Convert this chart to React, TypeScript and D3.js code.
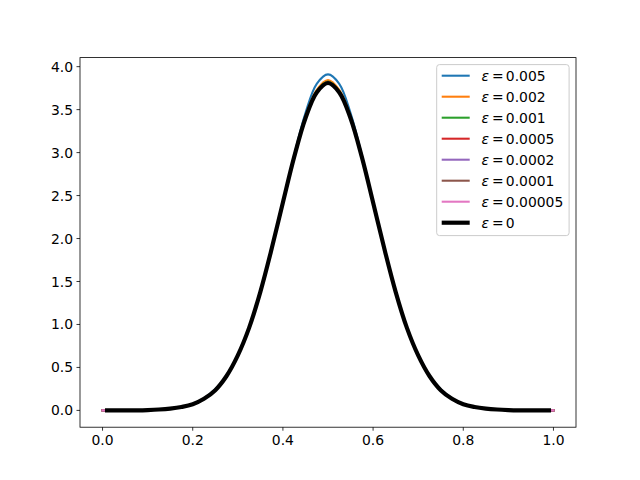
import React from 'react';
import * as d3 from 'd3';

const xGrid = [0, 0.025, 0.05, 0.075, 0.1, 0.125, 0.15, 0.175, 0.2, 0.225, 0.25, 0.275, 0.3, 0.325, 0.35, 0.375, 0.4, 0.425, 0.45, 0.475, 0.5, 0.525, 0.55, 0.575, 0.6, 0.625, 0.65, 0.675, 0.7, 0.725, 0.75, 0.775, 0.8, 0.825, 0.85, 0.875, 0.9, 0.925, 0.95, 0.975, 1];
const xExact = [0.01, 0.025, 0.05, 0.075, 0.1, 0.125, 0.15, 0.175, 0.2, 0.225, 0.25, 0.275, 0.3, 0.325, 0.35, 0.375, 0.4, 0.425, 0.45, 0.475, 0.5, 0.525, 0.55, 0.575, 0.6, 0.625, 0.65, 0.675, 0.7, 0.725, 0.75, 0.775, 0.8, 0.825, 0.85, 0.875, 0.9, 0.925, 0.95, 0.975, 0.99];

const yEps0005 = [0, 0, 0, 0.001, 0.004, 0.011, 0.023, 0.043, 0.076, 0.14, 0.245, 0.405, 0.645, 0.96, 1.37, 1.87, 2.42, 2.97, 3.46, 3.80, 3.91, 3.80, 3.46, 2.97, 2.42, 1.87, 1.37, 0.96, 0.645, 0.405, 0.245, 0.14, 0.076, 0.043, 0.023, 0.011, 0.004, 0.001, 0, 0, 0];
const yEps0002 = [0, 0, 0, 0.001, 0.004, 0.01, 0.021, 0.04, 0.072, 0.135, 0.236, 0.401, 0.641, 0.96, 1.38, 1.88, 2.42, 2.96, 3.42, 3.73, 3.845, 3.73, 3.42, 2.96, 2.42, 1.88, 1.38, 0.96, 0.641, 0.401, 0.236, 0.135, 0.072, 0.04, 0.021, 0.01, 0.004, 0.001, 0, 0, 0];
const yEps0001 = [0, 0, 0, 0.001, 0.004, 0.01, 0.021, 0.04, 0.072, 0.135, 0.235, 0.4, 0.64, 0.96, 1.38, 1.88, 2.42, 2.955, 3.41, 3.715, 3.827, 3.715, 3.41, 2.955, 2.42, 1.88, 1.38, 0.96, 0.64, 0.4, 0.235, 0.135, 0.072, 0.04, 0.021, 0.01, 0.004, 0.001, 0, 0, 0];
const yEps00005 = [0, 0, 0, 0.001, 0.004, 0.01, 0.021, 0.04, 0.072, 0.135, 0.235, 0.4, 0.64, 0.96, 1.38, 1.88, 2.42, 2.952, 3.405, 3.707, 3.818, 3.707, 3.405, 2.952, 2.42, 1.88, 1.38, 0.96, 0.64, 0.4, 0.235, 0.135, 0.072, 0.04, 0.021, 0.01, 0.004, 0.001, 0, 0, 0];
const yEps00002 = [0, 0, 0, 0.001, 0.004, 0.01, 0.021, 0.04, 0.072, 0.135, 0.235, 0.4, 0.64, 0.96, 1.38, 1.88, 2.42, 2.951, 3.402, 3.703, 3.813, 3.703, 3.402, 2.951, 2.42, 1.88, 1.38, 0.96, 0.64, 0.4, 0.235, 0.135, 0.072, 0.04, 0.021, 0.01, 0.004, 0.001, 0, 0, 0];
const yEps00001 = [0, 0, 0, 0.001, 0.004, 0.01, 0.021, 0.04, 0.072, 0.135, 0.235, 0.4, 0.64, 0.96, 1.38, 1.88, 2.42, 2.95, 3.401, 3.701, 3.811, 3.701, 3.401, 2.95, 2.42, 1.88, 1.38, 0.96, 0.64, 0.4, 0.235, 0.135, 0.072, 0.04, 0.021, 0.01, 0.004, 0.001, 0, 0, 0];
const yEps000005 = [0, 0, 0, 0.001, 0.004, 0.01, 0.021, 0.04, 0.072, 0.135, 0.235, 0.4, 0.64, 0.96, 1.38, 1.88, 2.42, 2.95, 3.40, 3.70, 3.81, 3.70, 3.40, 2.95, 2.42, 1.88, 1.38, 0.96, 0.64, 0.4, 0.235, 0.135, 0.072, 0.04, 0.021, 0.01, 0.004, 0.001, 0, 0, 0];
const yEps0 = [0, 0, 0, 0.001, 0.004, 0.01, 0.021, 0.04, 0.072, 0.135, 0.235, 0.4, 0.64, 0.96, 1.38, 1.88, 2.42, 2.95, 3.40, 3.70, 3.81, 3.70, 3.40, 2.95, 2.42, 1.88, 1.38, 0.96, 0.64, 0.4, 0.235, 0.135, 0.072, 0.04, 0.021, 0.01, 0.004, 0.001, 0, 0, 0];

const epsLabels = ['0.005', '0.002', '0.001', '0.0005', '0.0002', '0.0001', '0.00005', '0'];
const seriesColors = ['#1f77b4', '#ff7f0e', '#2ca02c', '#d62728', '#9467bd', '#8c564b', '#e377c2', '#000000'];
const xTickValues = [0, 0.2, 0.4, 0.6, 0.8, 1.0];
const yTickValues = [0, 0.5, 1, 1.5, 2, 2.5, 3, 3.5, 4];

const series = [
  { label: epsLabels[0], x: xGrid, y: yEps0005, color: seriesColors[0], w: 2.08 },
  { label: epsLabels[1], x: xGrid, y: yEps0002, color: seriesColors[1], w: 2.08 },
  { label: epsLabels[2], x: xGrid, y: yEps0001, color: seriesColors[2], w: 2.08 },
  { label: epsLabels[3], x: xGrid, y: yEps00005, color: seriesColors[3], w: 2.08 },
  { label: epsLabels[4], x: xGrid, y: yEps00002, color: seriesColors[4], w: 2.08 },
  { label: epsLabels[5], x: xGrid, y: yEps00001, color: seriesColors[5], w: 2.08 },
  { label: epsLabels[6], x: xGrid, y: yEps000005, color: seriesColors[6], w: 2.08 },
  { label: epsLabels[7], x: xExact, y: yEps0, color: seriesColors[7], w: 4.17 },
];

const W = 640, H = 480;
const L = 80, R = 576, T = 57.6, B = 427.2;
const FONT = 'DejaVu Sans, sans-serif';
const FS = 13.9;

export default function App() {
  const xs = d3.scaleLinear().domain([-0.05, 1.05]).range([L, R]);
  const yMax = d3.max(series, s => d3.max(s.y) as number) as number;
  const ys = d3.scaleLinear().domain([-0.05 * yMax, 1.05 * yMax]).range([B, T]);

  const lineGen = (s: typeof series[0]) =>
    d3.line<number>()
      .x((_, i) => xs(s.x[i]))
      .y(v => ys(v))
      .curve(d3.curveCatmullRom.alpha(0.5))(s.y) || '';

  const legX = 436.7, legY = 64.6, legW = 132.4, legH = 171;
  const rowY0 = 75.7, rowDy = 21;

  return (
    <svg width={W} height={H} style={{ position: 'absolute', left: 0, top: 0, background: '#fff' }} fontFamily={FONT}>
      <rect x={0} y={0} width={W} height={H} fill="#fff" />
      {series.map((s, i) => (
        <path key={i} d={lineGen(s)} fill="none" stroke={s.color} strokeWidth={s.w} strokeLinecap="square" strokeLinejoin="round" />
      ))}
      <rect x={L} y={T} width={R - L} height={B - T} fill="none" stroke="#000" strokeWidth={0.8} />
      {xTickValues.map((t, i) => (
        <g key={'x' + i}>
          <line x1={xs(t)} x2={xs(t)} y1={B} y2={B + 3.5} stroke="#000" strokeWidth={0.8} />
          <text x={xs(t)} y={B + 7 + 10.6} textAnchor="middle" fontSize={FS} fill="#000">{t.toFixed(1)}</text>
        </g>
      ))}
      {yTickValues.map((t, i) => (
        <g key={'y' + i}>
          <line x1={L - 3.5} x2={L} y1={ys(t)} y2={ys(t)} stroke="#000" strokeWidth={0.8} />
          <text x={L - 7} y={ys(t)} dy="0.36em" textAnchor="end" fontSize={FS} fill="#000">{t.toFixed(1)}</text>
        </g>
      ))}
      <rect x={legX} y={legY} width={legW} height={legH} rx={2.8} ry={2.8} fill="#fff" fillOpacity={0.8} stroke="#cccccc" strokeWidth={1} />
      {series.map((s, i) => {
        const cy = rowY0 + i * rowDy;
        return (
          <g key={'l' + i}>
            <line x1={441.7} x2={469.7} y1={cy} y2={cy} stroke={s.color} strokeWidth={s.w} strokeLinecap="butt" />
            <text x={481.5} y={cy} dy="0.36em" fontSize={FS} fill="#000" fontStyle="italic">ε</text>
            <text x={492} y={cy} dy="0.36em" fontSize={FS} fill="#000">=</text>
            <text x={505.8} y={cy} dy="0.36em" fontSize={FS} fill="#000">{s.label}</text>
          </g>
        );
      })}
    </svg>
  );
}
